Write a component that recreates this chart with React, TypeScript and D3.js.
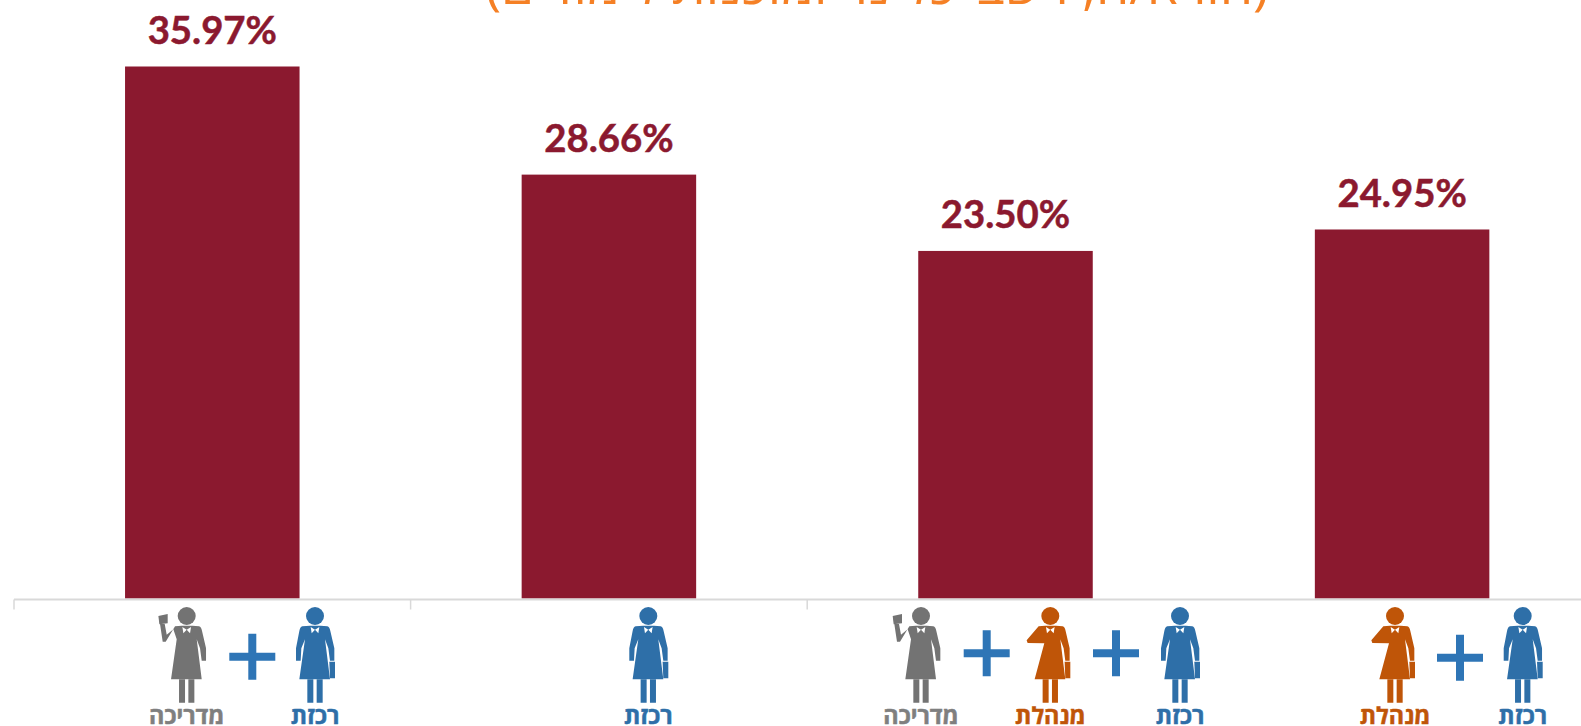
import React from "react";
import * as d3 from "d3";

const categories = ["a", "b", "c", "d"];
const values = [35.97, 28.66, 23.5, 24.95];
const title = "(הורא/ה, רשב\"כל נר ומוכנות לימודים)";
type Role = "r" | "m" | "g";
const roleNames: Record<Role, string> = { r: "רכזת", m: "מנהלת", g: "מדריכה" };
const roleColors: Record<Role, string> = { r: "#2E6FA8", m: "#BF5508", g: "#737373" };
const groups: { role: Role; x: number }[][] = [
  [{ role: "g", x: 186.7 }, { role: "r", x: 315 }],
  [{ role: "r", x: 648.3 }],
  [{ role: "g", x: 921 }, { role: "m", x: 1050.3 }, { role: "r", x: 1180 }],
  [{ role: "m", x: 1395 }, { role: "r", x: 1522.7 }],
];
const plusMarks = [
  { x: 252.3, y: 656.7 },
  { x: 986.7, y: 653.3 },
  { x: 1116, y: 653.3 },
  { x: 1460, y: 657.7 },
];

const W = 1581, H = 726;
const baseY = 598.5;
const x = d3.scaleBand<string>().domain(categories).range([14, 1600.4]).paddingInner(0.56).paddingOuter(0.28);
const y = d3.scaleLinear().domain([0, 35.97]).range([baseY, 66.5]);
// The tick between the third and fourth groups is hidden in the reference.
const ticks = d3.range(0, 3).map((i) => 14 + (i * (1600.4 - 14)) / 4);

const legs = "M-23,190V260H-5V190Z M5,190V260H23V190Z";
const dress = "M-15,29 L-38,31 Q-45,33 -47,45 L-57,97 V134 H-43 L-41,97 L-30,70 L-47,190 H45 L30,70 L40,97 L45,134 H58 V97 L46,45 Q44,33 37,31 L17,29 Z";
const bow = "M0,41 L-13,33 L-10,52 Z M0,41 L13,33 L10,52 Z";
const bag = "M43,137 H60 V187 H45 Z";
const gDress = "M-15,29 L-35,31 L-63,77 H-72 L-80,24 H-66 L-60,56 L-40,40 L-30,70 L-47,190 H45 L30,70 L40,97 L45,134 H58 V97 L46,45 Q44,33 37,31 L17,29 Z";
const book = "M-85,0 L-57,-6 V22 L-82,25 Z";
const mDress = "M-15,29 L-35,31 L-71,73 L-68,81 L-18,82 L-47,190 H45 L30,70 L40,97 L45,134 H58 V97 L46,45 Q44,33 37,31 L17,29 Z";

function Figure({ role, cx }: { role: Role; cx: number }) {
  const c = roleColors[role];
  return (
    <g transform={`translate(${cx},616) scale(${1 / 3})`} fill={c}>
      <circle r={27} />
      <path d={legs} />
      <path d={role === "g" ? gDress : role === "m" ? mDress : dress} />
      {role === "g" ? <path d={book} /> : <path d={bag} />}
      <path d={bow} fill="#fff" />
      <text
        y={323}
        textAnchor="middle"
        direction="rtl"
        fontFamily="'Open Sans', sans-serif"
        fontWeight={700}
        fontSize={70}
        stroke={role === "g" ? "#7F7F7F" : c}
        strokeWidth={1.5}
        fill={role === "g" ? "#7F7F7F" : c}
      >
        {roleNames[role]}
      </text>
    </g>
  );
}

export default function App() {
  const bw = x.bandwidth();
  return (
    <svg width={W} height={H} style={{ position: "absolute", left: 0, top: 0, background: "#fff" }}>
      <text x={877} y={4} textAnchor="middle" direction="rtl" fontFamily="'Open Sans', sans-serif" fontSize={53} fill="#F58025">
        {title}
      </text>
      {categories.map((c, i) => (
        <rect key={c} x={x(c)} y={y(values[i])} width={bw} height={baseY - y(values[i])} fill="#8B192F" />
      ))}
      {categories.map((c, i) => (
        <text
          key={c}
          x={x(c)! + bw / 2}
          y={y(values[i]) - 22.5}
          textAnchor="middle"
          fontFamily="Lato, sans-serif"
          fontWeight={700}
          fontSize={38.3}
          stroke="#8B192F"
          strokeWidth={0.5}
          fill="#8B192F"
        >
          {values[i].toFixed(2)}%
        </text>
      ))}
      <line x1={14} x2={W} y1={baseY + 1} y2={baseY + 1} stroke="#D9D9D9" strokeWidth={2} />
      {ticks.map((t) => (
        <line key={t} x1={t} x2={t} y1={baseY + 1} y2={baseY + 11} stroke="#D9D9D9" strokeWidth={1.5} />
      ))}
      {groups.flat().map((f, i) => (
        <Figure key={i} role={f.role} cx={f.x} />
      ))}
      {plusMarks.map((p, i) => (
        <path key={i} d={`M${p.x - 23},${p.y}H${p.x + 23}M${p.x},${p.y - 23}V${p.y + 23}`} stroke="#2E75B6" strokeWidth={8} fill="none" />
      ))}
    </svg>
  );
}
